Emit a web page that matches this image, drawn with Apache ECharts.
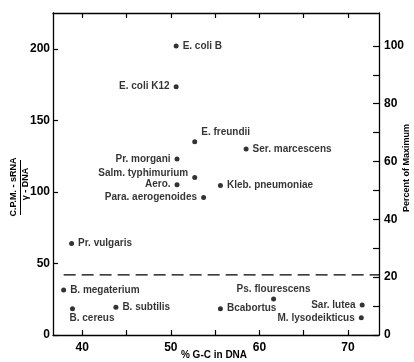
<!DOCTYPE html>
<html><head><meta charset="utf-8">
<script src="https://cdn.jsdelivr.net/npm/echarts@6/dist/echarts.min.js"></script>
<style>html,body{margin:0;padding:0;background:#fff}#c{width:414px;height:362px}</style>
</head><body><div id="c"></div>
<script>
const organisms = ["E. coli B","E. coli K12","E. freundii","Pr. morgani","Salm. typhimurium","Ser. marcescens","Aero.","Para. aerogenoides","Kleb. pneumoniae","Pr. vulgaris","B. megaterium","B. cereus","B. subtilis","Ps. flourescens","Bcabortus","Sar. lutea","M. lysodeikticus"];
const gcPercent = [50.6,50.6,52.7,50.7,52.7,58.5,50.7,53.7,55.6,38.8,37.9,38.9,43.8,61.6,55.6,71.6,71.5];
const cpmPerDna = [202,173.5,135,123,110,130,105,96,104.5,64,31.5,18.4,19.4,25.2,18.4,21,12];
const thresholdX = [37.9, 73.5];
const thresholdY = [42, 42];
const xTicks = [40,45,50,55,60,65,70];
const xLabels = [40,50,60,70];
const yLeftTicks = [0,50,100,150,200];
const yRightTicks = [0,10,20,30,40,50,60,70,80,90,100];
const yRightLabels = [0,20,40,60,80,100];

const labelSide = {"E. coli K12":"left","Pr. morgani":"left","Salm. typhimurium":"left","Aero.":"left","Para. aerogenoides":"left","Sar. lutea":"left","M. lysodeikticus":"left","B. cereus":"bottom","Ps. flourescens":"top"};
const labelOffset = {"E. freundii":[0,-10],"Salm. typhimurium":[0,-4],"B. cereus":[-3,-1]};

const FONT = "Liberation Sans";
const data = organisms.map((n,i)=>{
  const pos = labelSide[n] || "right";
  const lab = {position: pos, distance: 4};
  if (labelOffset[n]) lab.offset = labelOffset[n];
  if (n==="B. cereus") { lab.align = "left"; lab.distance = 3; }
  if (n==="Ps. flourescens") { lab.distance = 2; }
  return {name:n, value:[gcPercent[i], cpmPerDna[i]], label: lab};
});

const XMIN=36.7, XMAX=73.5, YMAX=225, RMAX=225/2.02;
const axisLine = {show:true, onZero:false, lineStyle:{color:"#000", width:1.3}};
const chart = echarts.init(document.getElementById("c"), null, {renderer:"canvas"});
chart.setOption({
  animation:false,
  backgroundColor:"#fff",
  grid:{left:53,right:35,top:13,bottom:27},
  xAxis:[
    {type:"value",position:"bottom",min:XMIN,max:XMAX,axisLine,
     splitLine:{show:false},
     axisTick:{show:true,inside:true,length:5,customValues:xTicks,lineStyle:{color:"#000",width:1.2}},
     axisLabel:{customValues:xLabels,color:"#000",fontFamily:FONT,fontWeight:"bold",fontSize:12,margin:7}},
    {type:"value",position:"top",min:XMIN,max:XMAX,axisLine,
     splitLine:{show:false},
     axisTick:{show:true,inside:true,length:5,customValues:xTicks,lineStyle:{color:"#000",width:1.2}},
     axisLabel:{show:false}}
  ],
  yAxis:[
    {type:"value",position:"left",min:0,max:YMAX,axisLine,splitLine:{show:false},
     axisTick:{show:true,inside:true,length:5,customValues:yLeftTicks,lineStyle:{color:"#000",width:1.2}},
     axisLabel:{customValues:yLeftTicks,color:"#000",fontFamily:FONT,fontWeight:"bold",fontSize:12,margin:3}},
    {type:"value",position:"right",min:0,max:RMAX,axisLine,splitLine:{show:false},
     axisTick:{show:true,inside:true,length:6,customValues:yRightTicks,lineStyle:{color:"#000",width:1.2}},
     axisLabel:{customValues:yRightLabels,color:"#000",fontFamily:FONT,fontWeight:"bold",fontSize:12,margin:5}}
  ],
  series:[
    {type:"scatter",xAxisIndex:0,yAxisIndex:0,symbol:"circle",symbolSize:5,
     itemStyle:{color:"#000"},
     label:{show:true,formatter:p=>p.name,color:"#000",fontFamily:FONT,fontWeight:"bold",fontSize:10},
     data:data},
    {type:"line",xAxisIndex:0,yAxisIndex:0,symbol:"none",silent:true,
     lineStyle:{color:"#000",width:1.2,type:[12,6]},
     data:thresholdX.map((x,i)=>[x,thresholdY[i]])}
  ],
  graphic:[
    {type:"text",x:14,y:187,rotation:Math.PI/2,style:{text:"C.P.M. - sRNA",font:"bold 9px "+FONT,fill:"#000",align:"center",verticalAlign:"middle"}},
    {type:"line",shape:{x1:20.5,y1:160,x2:20.5,y2:215},style:{stroke:"#000",lineWidth:1}},
    {type:"text",x:26,y:184,rotation:Math.PI/2,style:{text:"γ - DNA",font:"bold 9px "+FONT,fill:"#000",align:"center",verticalAlign:"middle"}},
    {type:"text",x:407,y:168,rotation:Math.PI/2,style:{text:"Percent of Maximum",font:"bold 9px "+FONT,fill:"#000",align:"center",verticalAlign:"middle"}},
    {type:"text",x:214,y:355,style:{text:"% G-C in DNA",font:"bold 10px "+FONT,fill:"#000",align:"center",verticalAlign:"middle"}}
  ]
});
</script></body></html>
